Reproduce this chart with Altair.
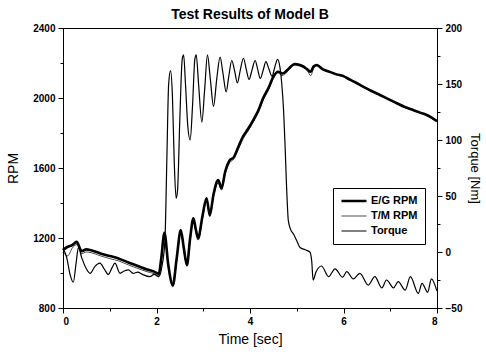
import altair as alt
import pandas as pd

# ---------------- data ----------------
eg_t = [0, 0.1, 0.2, 0.29, 0.4, 0.5, 0.6, 0.8, 1.0, 1.2, 1.4, 1.6, 1.8, 1.95, 2.05,
        2.1, 2.17, 2.25, 2.35, 2.43, 2.52, 2.58, 2.65, 2.72, 2.79, 2.84, 2.89, 2.98,
        3.07, 3.14, 3.22, 3.32, 3.39, 3.47, 3.57, 3.65, 3.75, 3.85, 3.95, 4.07, 4.18,
        4.28, 4.4, 4.5, 4.6, 4.7, 4.8, 4.96, 5.05, 5.14, 5.22, 5.3, 5.36, 5.43, 5.55,
        5.7, 5.85, 6.0, 6.1, 6.25, 6.42, 6.6, 6.78, 6.95, 7.14, 7.3, 7.49, 7.65, 7.78,
        7.9, 8.0]
eg_rpm = [1131, 1150, 1160, 1178, 1125, 1135, 1130, 1112, 1097, 1082, 1060, 1040, 1020, 1008, 995,
          1080, 1230, 1050, 930, 1080, 1246, 1150, 1046, 1200, 1313, 1250, 1198, 1320,
          1427, 1331, 1450, 1531, 1484, 1580, 1646, 1660, 1720, 1780, 1820, 1874, 1930,
          1998, 2060, 2122, 2150, 2140, 2160, 2194, 2190, 2180, 2165, 2150, 2180, 2189, 2165,
          2150, 2135, 2125, 2110, 2090, 2065, 2040, 2017, 1995, 1970, 1950, 1931, 1915, 1903,
          1885, 1868]

tm_t = [0, 0.1, 0.2, 0.3, 0.4, 0.5, 0.6, 0.8, 1.0, 1.2, 1.4, 1.6, 1.8, 1.95, 2.05,
        2.1, 2.17, 2.25, 2.35, 2.43, 2.52, 2.58, 2.65, 2.72, 2.79, 2.84, 2.89, 2.98,
        3.07, 3.14, 3.22, 3.32, 3.39, 3.47, 3.57, 3.65, 3.75, 3.85, 3.95, 4.07, 4.18,
        4.28, 4.4, 4.5, 4.6, 4.68, 4.76, 4.9, 5.05, 5.14, 5.22, 5.3, 5.36, 5.43, 5.55,
        5.7, 5.85, 6.0, 6.1, 6.25, 6.42, 6.6, 6.78, 6.95, 7.14, 7.3, 7.49, 7.65, 7.78,
        7.9, 8.0]
tm_rpm = [1118, 1098, 1143, 1163, 1110, 1120, 1116, 1098, 1082, 1068, 1046, 1026, 1007, 996, 982,
          1068, 1218, 1038, 920, 1068, 1232, 1138, 1038, 1188, 1298, 1238, 1188, 1306,
          1412, 1322, 1436, 1516, 1474, 1566, 1632, 1650, 1708, 1766, 1808, 1862, 1918,
          1986, 2048, 2112, 2145, 2128, 2138, 2188, 2184, 2174, 2158, 2128, 2168, 2184, 2162,
          2148, 2132, 2122, 2108, 2088, 2062, 2038, 2015, 1992, 1968, 1948, 1929, 1913, 1900,
          1882, 1866]

tq_t = [0, 0.08, 0.15, 0.22, 0.28, 0.33, 0.4, 0.5, 0.58, 0.68, 0.79, 0.88, 0.97, 1.05,
        1.11, 1.22, 1.31, 1.4, 1.5, 1.6, 1.7, 1.86, 1.95, 2.05, 2.12, 2.18, 2.22, 2.26,
        2.3, 2.34, 2.38, 2.42, 2.45, 2.5, 2.55, 2.58, 2.62, 2.67, 2.72, 2.77, 2.82, 2.85,
        2.9, 2.97, 3.03, 3.09, 3.15, 3.22, 3.29, 3.36, 3.42, 3.49, 3.55, 3.61, 3.67, 3.73,
        3.79, 3.86, 3.92, 3.98, 4.04, 4.11, 4.16, 4.22, 4.28, 4.34, 4.4, 4.47, 4.53, 4.59,
        4.64, 4.68, 4.72, 4.75, 4.78, 4.82, 4.87, 4.93, 5.0, 5.07, 5.18, 5.28, 5.32, 5.35,
        5.41, 5.53, 5.68, 5.82, 5.98, 6.07, 6.21, 6.35, 6.53, 6.67, 6.82, 6.92, 7.07, 7.17,
        7.32, 7.43, 7.6, 7.68, 7.8, 7.88, 8.0]
tq_nm = [3, -5, -20, -27, -10, 4, -5, -15, -19, -13, -10, -15, -20, -14,
         -10, -19, -17, -16, -19, -18, -20, -22, -20, -22, -12, 10, 80, 150,
         162, 140, 80, 48, 55, 120, 172, 176, 150, 112, 100, 130, 172, 176,
         150, 116, 145, 176, 155, 130, 155, 174, 160, 143, 158, 171, 162, 151,
         162, 173, 163, 154, 162, 171, 164, 155, 162, 170, 164, 157, 165, 172,
         165, 150, 125, 95, 61, 28, 20, 16, 10, 4, 2, 0, -8, -25,
         -18, -12.5, -22, -15, -22.5, -17.5, -24, -19, -29.5, -22, -32, -25, -32, -26.5,
         -34, -22, -37, -28, -36, -24, -35]

series_names = ["E/G RPM", "T/M RPM", "Torque"]
# ---------------------------------------------------------------

rpm_df = pd.concat([
    pd.DataFrame({"t": eg_t, "v": eg_rpm, "series": series_names[0]}),
    pd.DataFrame({"t": tm_t, "v": tm_rpm, "series": series_names[1]}),
], ignore_index=True)
tq_df = pd.DataFrame({"t": tq_t, "v": tq_nm, "series": series_names[2]})

FONT = "Liberation Sans"

sw = alt.StrokeWidth(
    "series:N",
    scale=alt.Scale(type="ordinal", domain=series_names, range=[2.6, 0.7, 1.2]),
    legend=alt.Legend(
        title=None, orient="none", legendX=270, legendY=160,
        strokeColor="black", fillColor="white", padding=7,
        symbolType="stroke", symbolSize=625, symbolStrokeColor="black",
        labelFont=FONT, labelFontSize=11, labelFontWeight="bold",
        labelColor="black", labelOffset=3, rowPadding=3, clipHeight=12,
    ),
)

x = alt.X(
    "t:Q",
    scale=alt.Scale(domain=[0, 8], nice=False, zero=False),
    axis=alt.Axis(
        values=list(range(9)),
        labelExpr="datum.value % 2 == 0 ? datum.label : ''",
        tickSize={"condition": {"test": "datum.value % 2 == 0", "value": 5}, "value": 3},
        title="Time [sec]", titlePadding=6,
    ),
)

left_axis = alt.Axis(
    values=list(range(800, 2401, 200)),
    labelExpr="datum.value % 400 == 0 ? datum.label : ''",
    tickSize={"condition": {"test": "datum.value % 400 == 0", "value": 5}, "value": 3},
    format="d", title="RPM", titlePadding=12, orient="left",
)
right_axis = alt.Axis(
    values=list(range(-50, 201, 25)),
    labelExpr="datum.value % 50 == 0 ? datum.label : ''",
    tickSize={"condition": {"test": "datum.value % 50 == 0", "value": 5}, "value": 3},
    format="d", title="Torque [Nm]", titleAngle=90, titlePadding=6, titleFontSize=13,
    orient="right",
)

rpm_layer = alt.Chart(rpm_df).mark_line(color="black", interpolate="monotone").encode(
    x=x,
    y=alt.Y("v:Q", scale=alt.Scale(domain=[800, 2400], nice=False, zero=False), axis=left_axis),
    strokeWidth=sw,
)
tq_layer = alt.Chart(tq_df).mark_line(color="black", interpolate="monotone").encode(
    x=x,
    y=alt.Y("v:Q", scale=alt.Scale(domain=[-50, 200], nice=False, zero=False), axis=right_axis),
    strokeWidth=sw,
)

chart = (
    alt.layer(rpm_layer, tq_layer)
    .resolve_scale(y="independent")
    .properties(
        width=374, height=280,
        title=alt.TitleParams("Test Results of Model B", font=FONT, fontSize=14,
                              fontWeight="bold", color="black", offset=1, anchor="middle"),
        padding={"left": 63, "top": 28, "right": 49, "bottom": 46},
        autosize=alt.AutoSizeParams(type="none"),
        background="white",
    )
    .configure_view(stroke="black", strokeWidth=1)
    .configure_axis(
        domainColor="black", tickColor="black", labelColor="black", titleColor="black",
        labelFont=FONT, labelFontSize=10, labelFontWeight="bold", labelPadding=3,
        titleFont=FONT, titleFontSize=14, titleFontWeight="normal",
        grid=False, domainWidth=1, tickWidth=1,
    )
)

chart.save("out.html", embed_options={"renderer": "svg", "actions": False})
